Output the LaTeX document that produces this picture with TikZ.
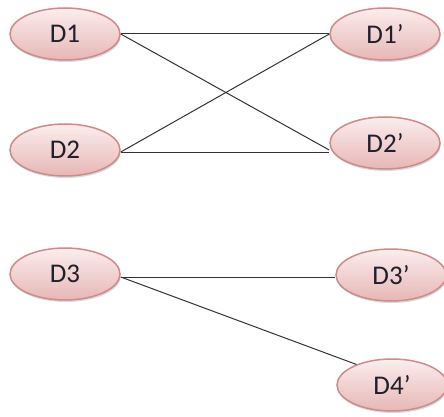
\documentclass[tikz,border=0pt]{standalone}
\usepackage{fontspec}
\setmainfont{Carlito}
\usetikzlibrary{shapes.geometric,shadows}
\definecolor{elltop}{HTML}{FBEDED}
\definecolor{ellbot}{HTML}{E6B7B6}
\definecolor{ellline}{HTML}{D08A88}
\definecolor{txt}{HTML}{1F1F2E}
\tikzset{
  ell/.style={ellipse, draw=ellline, line width=1.5pt, top color=elltop, bottom color=ellbot,
    minimum width=110pt, minimum height=52pt, inner sep=0pt, text=txt,
    font=\fontsize{27}{27}\selectfont,
    drop shadow={shadow xshift=0.8pt, shadow yshift=-2pt, opacity=0.25, fill=black!60}},
  conn/.style={draw=black!80, line width=1pt}
}
\begin{document}
\begin{tikzpicture}[x=1pt,y=-1pt]
\useasboundingbox (0,0) rectangle (444,417);
\node[ell] (D1) at (65,34) {D1};
\node[ell] (D2) at (65,150) {D2};
\node[ell] (D3) at (65,274) {D3};
\node[ell] (D1p) at (385,34) {D1’};
\node[ell] (D2p) at (385,143) {D2’};
\node[ell] (D3p) at (391,275) {D3’};
\node[ell] (D4p) at (392,385) {D4’};
\draw[conn] (D1.east) -- (D1p.west);
\draw[conn] (D1.east) -- (D2.east -| D2p.west);
\draw[conn] ([yshift=-2pt]D2.east) -- (D1p.west);
\draw[conn] ([yshift=-2pt]D2.east) -- ([yshift=-2pt]D2.east -| D2p.west);
\draw[conn] ([yshift=-3pt]D3.east) -- ([yshift=-3pt]D3.east -| D3p.west);
\draw[conn] ([yshift=-3pt]D3.east) -- (D4p.150);
\end{tikzpicture}
\end{document}
